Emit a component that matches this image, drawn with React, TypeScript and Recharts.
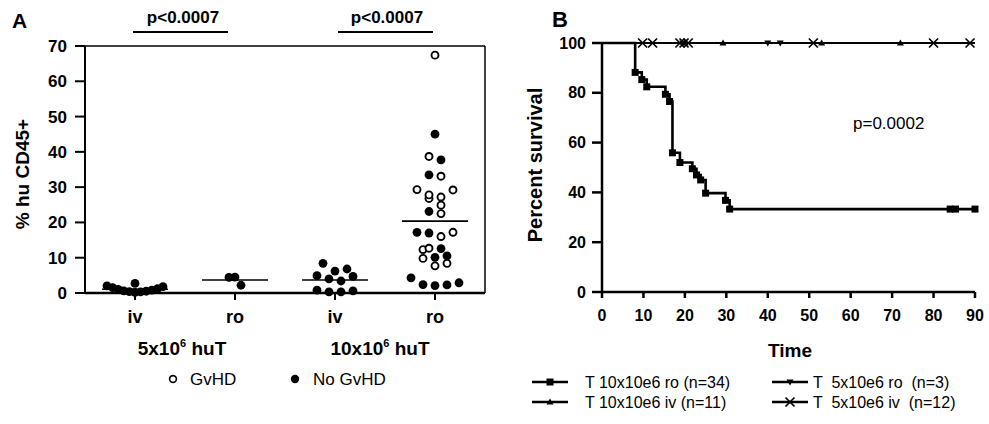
import { ScatterChart, Scatter, LineChart, Line, XAxis, YAxis, ReferenceLine } from "recharts";

const FONT = "'Liberation Sans', Arial, Helvetica, sans-serif";

// ---- Panel A: % hu CD45+ by dose / route ----
const routes = ["iv", "ro", "iv", "ro"];
const doses = ["5x10", "10x10"];

const iv5Gvhd: number[] = [];
const iv5NoGvhd = [2.7, 2.0, 1.8, 1.5, 1.2, 1.0, 0.8, 0.6, 0.5, 0.4, 0.3, 0.2];
const ro5Gvhd: number[] = [];
const ro5NoGvhd = [4.5, 4.4, 2.2];
const iv10Gvhd: number[] = [];
const iv10NoGvhd = [8.4, 6.8, 6.2, 4.9, 4.7, 4.0, 3.4, 0.8, 0.6, 0.3, 0.3];
const ro10Gvhd = [67.4, 38.7, 33.1, 29.2, 29.3, 27.2, 26.8, 27.8, 24.9, 22.5, 16.0, 17.2, 12.7, 12.3, 8.4, 7.7, 9.8];
const ro10NoGvhd = [45.0, 37.7, 33.5, 23.1, 17.2, 17.0, 12.6, 10.1, 10.5, 4.3, 2.4, 2.1, 2.3, 2.9];

const pctTicks = [0, 10, 20, 30, 40, 50, 60, 70];

// ---- Panel B: survival ----
const timeTicks = [0, 10, 20, 30, 40, 50, 60, 70, 80, 90];
const survTicks = [0, 20, 40, 60, 80, 100];

const ro10Times = [8, 9.6, 10.8, 15.3, 16.3, 17, 18.8, 21.8, 22.8, 23.8, 25, 29.8, 30.8, 84, 85.3, 90];
const ro10Surv = [88.2, 85.3, 82.4, 79.4, 76.5, 55.9, 52, 49.5, 47, 45, 39.7, 36.8, 33.3, 33.3, 33.3, 33.3];
const ro5Times = [19.5, 40, 43];
const ro5Surv = [100, 100, 100];
const iv10Times = [20, 29.2, 53, 72];
const iv10Surv = [100, 100, 100, 100];
const iv5Times = [9.8, 12.2, 18.8, 19.8, 20.8, 51, 80, 88.8];
const iv5Surv = [100, 100, 100, 100, 100, 100, 100, 100];

const groupsA = [
  { gvhd: iv5Gvhd, none: iv5NoGvhd },
  { gvhd: ro5Gvhd, none: ro5NoGvhd },
  { gvhd: iv10Gvhd, none: iv10NoGvhd },
  { gvhd: ro10Gvhd, none: ro10NoGvhd },
];

const seriesB = [
  { name: "T 10x10e6 ro (n=34)", kind: "square", times: ro10Times, surv: ro10Surv },
  { name: "T  5x10e6 ro  (n=3)", kind: "down", times: ro5Times, surv: ro5Surv },
  { name: "T 10x10e6 iv (n=11)", kind: "up", times: iv10Times, surv: iv10Surv },
  { name: "T  5x10e6 iv  (n=12)", kind: "cross", times: iv5Times, surv: iv5Surv },
];

// simple row-based beeswarm: close values share a row, spread around the group centre
function swarm(center: number, gvhd: number[], none: number[]) {
  const pts = [
    ...gvhd.map((v) => ({ v, open: true })),
    ...none.map((v) => ({ v, open: false })),
  ].sort((a, b) => a.v - b.v);
  const out: { x: number; y: number; open: boolean }[] = [];
  let i = 0;
  while (i < pts.length) {
    let j = i;
    while (j < pts.length && pts[j].v - pts[i].v < 2.3) j++;
    const row = pts.slice(i, j);
    const n = row.length;
    const step = n > 1 ? Math.min(0.12, 0.56 / (n - 1)) : 0;
    const slots = row.map((_, k) => (k - (n - 1) / 2) * step).sort((a, b) => Math.abs(a) - Math.abs(b) || b - a);
    row.forEach((p, k) => out.push({ x: center + slots[k], y: p.v, open: p.open }));
    i = j;
  }
  return out;
}

const swarmPts = groupsA.flatMap((g, i) => swarm(i + 1, g.gvhd, g.none));
const gvhdPts = swarmPts.filter((p) => p.open);
const nonePts = swarmPts.filter((p) => !p.open);
const means = groupsA.map((g) => {
  const all = [...g.gvhd, ...g.none];
  return all.reduce((a, b) => a + b, 0) / all.length;
});

function Marker({ kind, cx, cy }: { kind: string; cx: number; cy: number }) {
  if (kind === "square") return <rect x={cx - 3.5} y={cy - 3.5} width={7} height={7} fill="#000" />;
  if (kind === "up") return <polygon points={`${cx},${cy - 3.5} ${cx + 3.5},${cy + 2.5} ${cx - 3.5},${cy + 2.5}`} fill="#000" />;
  if (kind === "down") return <polygon points={`${cx},${cy + 3.5} ${cx + 3.5},${cy - 2.5} ${cx - 3.5},${cy - 2.5}`} fill="#000" />;
  return (
    <g stroke="#000" strokeWidth={1.7}>
      <line x1={cx - 4.5} y1={cy - 4.5} x2={cx + 4.5} y2={cy + 4.5} />
      <line x1={cx - 4.5} y1={cy + 4.5} x2={cx + 4.5} y2={cy - 4.5} />
    </g>
  );
}

const makeDot = (kind: string) => (props: any) => {
  const { cx, cy, payload, index } = props;
  if (!payload.mark) return <g key={index} />;
  return (
    <g key={index}>
      <Marker kind={kind} cx={cx} cy={cy} />
    </g>
  );
};

const tickStyle = { fill: "#000", fontSize: 16, fontWeight: "bold", fontFamily: FONT };
const axisStroke = { stroke: "#000", strokeWidth: 2 };

export default function App() {
  return (
    <div style={{ position: "absolute", left: 0, top: 0, width: 989, height: 424, background: "#fff", fontFamily: FONT }}>
      {/* Panel A */}
      <div style={{ position: "absolute", left: 0, top: 0 }}>
        <ScatterChart width={500} height={330} margin={{ top: 46, right: 15, left: 0, bottom: 0 }}>
          <XAxis
            type="number"
            dataKey="x"
            domain={[0.5, 4.5]}
            ticks={[1, 2, 3, 4]}
            tickFormatter={(v) => routes[v - 1]}
            height={37}
            tickSize={7}
            tickMargin={10}
            tick={{ ...tickStyle, fontSize: 18 }}
            axisLine={{ stroke: "#000", strokeWidth: 2.5 }}
            tickLine={axisStroke}
          />
          <YAxis
            type="number"
            dataKey="y"
            domain={[0, 70]}
            ticks={pctTicks}
            width={85}
            tickSize={10}
            tickMargin={8}
            tick={{ ...tickStyle, fontSize: 17 }}
            axisLine={axisStroke}
            tickLine={axisStroke}
          />
          <ReferenceLine y={70} stroke="#000" strokeWidth={1.5} />
          <ReferenceLine x={4.5} stroke="#000" strokeWidth={1.5} />
          {means.map((m, i) => (
            <ReferenceLine
              key={i}
              segment={[{ x: i + 1 - 0.33, y: m }, { x: i + 1 + 0.33, y: m }]}
              stroke="#000"
              strokeWidth={1.6}
            />
          ))}
          <Scatter
            name="No GvHD"
            data={nonePts}
            isAnimationActive={false}
            shape={(p: any) => <circle cx={p.cx} cy={p.cy} r={4.4} fill="#000" />}
          />
          <Scatter
            name="GvHD"
            data={gvhdPts}
            isAnimationActive={false}
            shape={(p: any) => <circle cx={p.cx} cy={p.cy} r={3.5} fill="#fff" stroke="#000" strokeWidth={1.9} />}
          />
        </ScatterChart>
      </div>

      {/* Panel B */}
      <div style={{ position: "absolute", left: 500, top: 0 }}>
        <LineChart width={489} height={330} margin={{ top: 43, right: 14, left: 0, bottom: 0 }}>
          <XAxis
            type="number"
            dataKey="t"
            domain={[0, 90]}
            ticks={timeTicks}
            height={38}
            tickSize={6}
            tickMargin={12}
            tick={tickStyle}
            axisLine={{ stroke: "#000", strokeWidth: 2.5 }}
            tickLine={{ stroke: "#000", strokeWidth: 2.5 }}
          />
          <YAxis
            type="number"
            domain={[0, 100]}
            ticks={survTicks}
            width={102}
            tickSize={10}
            tickMargin={6}
            tick={tickStyle}
            axisLine={{ stroke: "#000", strokeWidth: 2.5 }}
            tickLine={{ stroke: "#000", strokeWidth: 2.5 }}
          />
          {[...seriesB].reverse().map((s) => {
            const last = s.surv[s.surv.length - 1];
            const data = [
              { t: 0, s: 100, mark: false },
              ...s.times.map((t, i) => ({ t, s: s.surv[i], mark: true })),
              { t: 90, s: last, mark: false },
            ];
            return (
              <Line
                key={s.name}
                data={data}
                dataKey="s"
                type="stepAfter"
                stroke="#000"
                strokeWidth={s.kind === "square" ? 2.6 : 1.8}
                dot={makeDot(s.kind)}
                activeDot={false}
                isAnimationActive={false}
              />
            );
          })}
        </LineChart>
      </div>

      {/* annotations */}
      <svg width={989} height={424} style={{ position: "absolute", left: 0, top: 0, pointerEvents: "none" }} fontFamily={FONT}>
        <text x={12} y={28} fontSize={21} fontWeight="bold">A</text>
        <text x={552} y={27} fontSize={22} fontWeight="bold">B</text>

        <text x={183} y={23} fontSize={17} fontWeight="bold" textAnchor="middle">p&lt;0.0007</text>
        <line x1={133} y1={32} x2={228} y2={32} stroke="#000" strokeWidth={2} />
        <text x={387} y={23} fontSize={17} fontWeight="bold" textAnchor="middle">p&lt;0.0007</text>
        <line x1={338} y1={32} x2={433} y2={32} stroke="#000" strokeWidth={2} />

        <text transform="translate(22,174) rotate(-90)" fontSize={19} fontWeight="bold" textAnchor="middle" dominantBaseline="central">
          % hu CD45+
        </text>
        {doses.map((d, i) => (
          <text key={d} x={i === 0 ? 182 : 380} y={355} fontSize={19} fontWeight="bold" textAnchor="middle">
            {d}
            <tspan fontSize={11} dy={-8}>6</tspan>
            <tspan dy={8}> huT</tspan>
          </text>
        ))}
        <circle cx={173} cy={379} r={3.4} fill="#fff" stroke="#000" strokeWidth={1.6} />
        <text x={190} y={385} fontSize={17}>GvHD</text>
        <circle cx={295} cy={379} r={4.2} fill="#000" />
        <text x={313} y={385} fontSize={17}>No GvHD</text>

        <text transform="translate(535,165) rotate(-90)" fontSize={20} fontWeight="bold" textAnchor="middle" dominantBaseline="central">
          Percent survival
        </text>
        <text x={790} y={357} fontSize={19} fontWeight="bold" textAnchor="middle">Time</text>
        <text x={853} y={129} fontSize={17}>p=0.0002</text>

        {seriesB.map((s, i) => {
          const col = i % 2;
          const row = Math.floor(i / 2);
          const lx = col === 0 ? 532 : 772;
          const tx = col === 0 ? 585 : 813;
          const cy = row === 0 ? 382 : 402;
          return (
            <g key={s.name}>
              <line x1={lx} y1={cy} x2={lx + 36} y2={cy} stroke="#000" strokeWidth={2.4} />
              <Marker kind={s.kind} cx={lx + 18} cy={cy} />
              <text x={tx} y={cy + 6} fontSize={16} style={{ whiteSpace: "pre" }}>{s.name}</text>
            </g>
          );
        })}
      </svg>
    </div>
  );
}
